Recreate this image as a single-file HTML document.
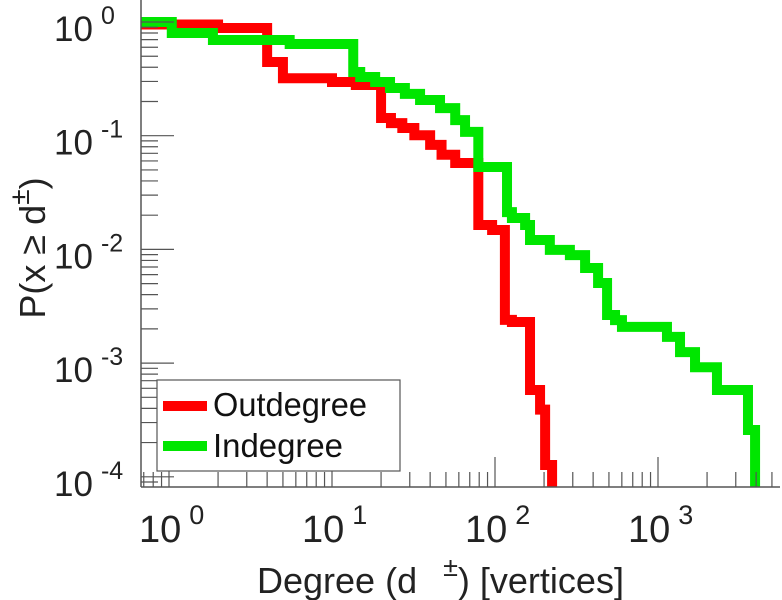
<!DOCTYPE html>
<html><head><meta charset="utf-8"><style>
html,body{margin:0;padding:0;background:#fff;}
svg{display:block;font-family:"Liberation Sans",sans-serif;}
</style></head><body>
<svg id="chart" width="782" height="600" viewBox="0 0 782 600" xmlns="http://www.w3.org/2000/svg">
<defs><clipPath id="plotclip"><rect x="141" y="0" width="641" height="487"/></clipPath></defs>
<g id="series" clip-path="url(#plotclip)"></g>
<g id="axes"></g>
<g id="labels"></g>
<g>
  <rect x="157" y="380" width="243" height="91" fill="#fff" stroke="#555" stroke-width="1.2"/>
  <line x1="163" y1="406" x2="207" y2="406" stroke="#ff0000" stroke-width="10"/>
  <text x="213" y="416" font-size="33" textLength="154" lengthAdjust="spacingAndGlyphs" fill="#111">Outdegree</text>
  <line x1="163" y1="446" x2="207" y2="446" stroke="#00e600" stroke-width="10"/>
  <text x="213" y="457" font-size="33" textLength="130" lengthAdjust="spacingAndGlyphs" fill="#111">Indegree</text>
</g>
<text transform="translate(45,248) rotate(-90)" text-anchor="middle" font-size="36" fill="#222">P(x ≥ d<tspan dy="-16" font-size="28">±</tspan><tspan dy="16">)</tspan></text>
<text x="257" y="593" font-size="36" fill="#222">Degree (d <tspan dx="16" dy="-17" font-size="27">±</tspan><tspan dy="17">) [vertices]</tspan></text>
</svg>
<script>
const outDeg = [0.67, 2, 4, 5, 10, 14, 20, 23, 27, 32, 40, 47, 57, 79, 96, 115, 127, 164, 189, 203, 224];
const outP = [0.95, 0.885, 0.445, 0.32, 0.297, 0.279, 0.143, 0.129, 0.117, 0.101, 0.083, 0.068, 0.0575, 0.0164, 0.0148, 0.0024, 0.0023, 0.00058, 0.00039, 0.000127, 0.00008];
const inDeg = [0.67, 1.04, 1.86, 5.5, 13.5, 14.9, 18.4, 22.7, 28, 34.7, 46, 57, 65.5, 79, 118.5, 127, 153, 164, 217, 288, 357, 429, 487, 545, 601, 1135, 1365, 1687, 2300, 3565, 3940];
const inP = [1, 0.80, 0.695, 0.64, 0.363, 0.328, 0.297, 0.263, 0.233, 0.206, 0.175, 0.137, 0.108, 0.053, 0.0213, 0.0189, 0.0164, 0.0121, 0.0099, 0.0089, 0.00686, 0.00506, 0.00265, 0.00239, 0.00208, 0.0017, 0.00125, 0.00092, 0.00058, 0.000258, 0.00008];
const xTickExps = [0, 1, 2, 3];
const yTickExps = [0, -1, -2, -3, -4];
const xTickLabels = ["0", "1", "2", "3"];
const yTickLabels = ["0", "-1", "-2", "-3", "-4"];

const NS = "http://www.w3.org/2000/svg";
const X0 = 169, XDEC = 163, Y0 = 22, YDEC = 113.7;
const AX_L = 141, AX_B = 487, AX_R = 780, AX_T = 0;
function xs(d){ return X0 + Math.log10(d) * XDEC; }
function ys(p){ return Y0 - Math.log10(p) * YDEC; }
function mk(tag, attrs, parent){ const e = document.createElementNS(NS, tag); for (const k in attrs) e.setAttribute(k, attrs[k]); parent.appendChild(e); return e; }

const series = document.getElementById('series');
function stepPath(deg, p){
  let d = "M" + xs(deg[0]) + "," + ys(p[0]);
  for (let i = 1; i < deg.length; i++){
    d += " H" + xs(deg[i]) + " V" + ys(p[i]);
  }
  return d;
}
const redPath = mk('path', {d: stepPath(outDeg, outP), fill: 'none', stroke: '#ff0000', 'stroke-width': 10, 'stroke-linejoin': 'miter'}, series);


const greenPath = mk('path', {d: stepPath(inDeg, inP), fill: 'none', stroke: '#00e600', 'stroke-width': 10, 'stroke-linejoin': 'miter'}, series);



const axes = document.getElementById('axes');
const xAxis = mk('line', {x1: AX_L, y1: AX_B, x2: AX_R, y2: AX_B, stroke: '#555', 'stroke-width': 1.5}, axes);


const yAxis = mk('line', {x1: AX_L, y1: AX_T, x2: AX_L, y2: AX_B, stroke: '#555', 'stroke-width': 1.5}, axes);



for (let e = -1; e <= 3; e++){
  for (let k = 1; k <= 9; k++){
    const v = k * Math.pow(10, e);
    const x = xs(v);
    if (x < AX_L || x > AX_R) continue;
    const len = k === 1 ? 30 : 15;
    const t = mk('line', {x1: x, y1: AX_B, x2: x, y2: AX_B - len, stroke: '#555', 'stroke-width': 1.2}, axes);
    
    
  }
}
for (let e = -5; e <= 0; e++){
  for (let k = 1; k <= 9; k++){
    const v = k * Math.pow(10, e);
    const y = ys(v);
    if (y < AX_T || y > AX_B) continue;
    const len = k === 1 ? 33 : 17;
    const t = mk('line', {x1: AX_L, y1: y, x2: AX_L + len, y2: y, stroke: '#555', 'stroke-width': 1.2}, axes);
    
    
  }
}

const labels = document.getElementById('labels');
xTickExps.forEach((ex, i) => {
  const x = xs(Math.pow(10, ex));
  const t = mk('text', {x: x - 30, y: 542, 'font-size': 38, fill: '#222'}, labels);
  
  
  t.textContent = "10";
  const s = mk('tspan', {dx: 8, dy: -18, 'font-size': 27}, t);
  s.textContent = xTickLabels[i];
});
yTickExps.forEach((ex, i) => {
  const y = ys(Math.pow(10, ex));
  const t = mk('text', {x: 54, y: y + 19, 'font-size': 35, fill: '#222'}, labels);
  
  
  t.textContent = "10";
  const s = mk('tspan', {dx: 8, dy: -17, 'font-size': 25}, t);
  s.textContent = yTickLabels[i];
});
</script>
</body></html>
